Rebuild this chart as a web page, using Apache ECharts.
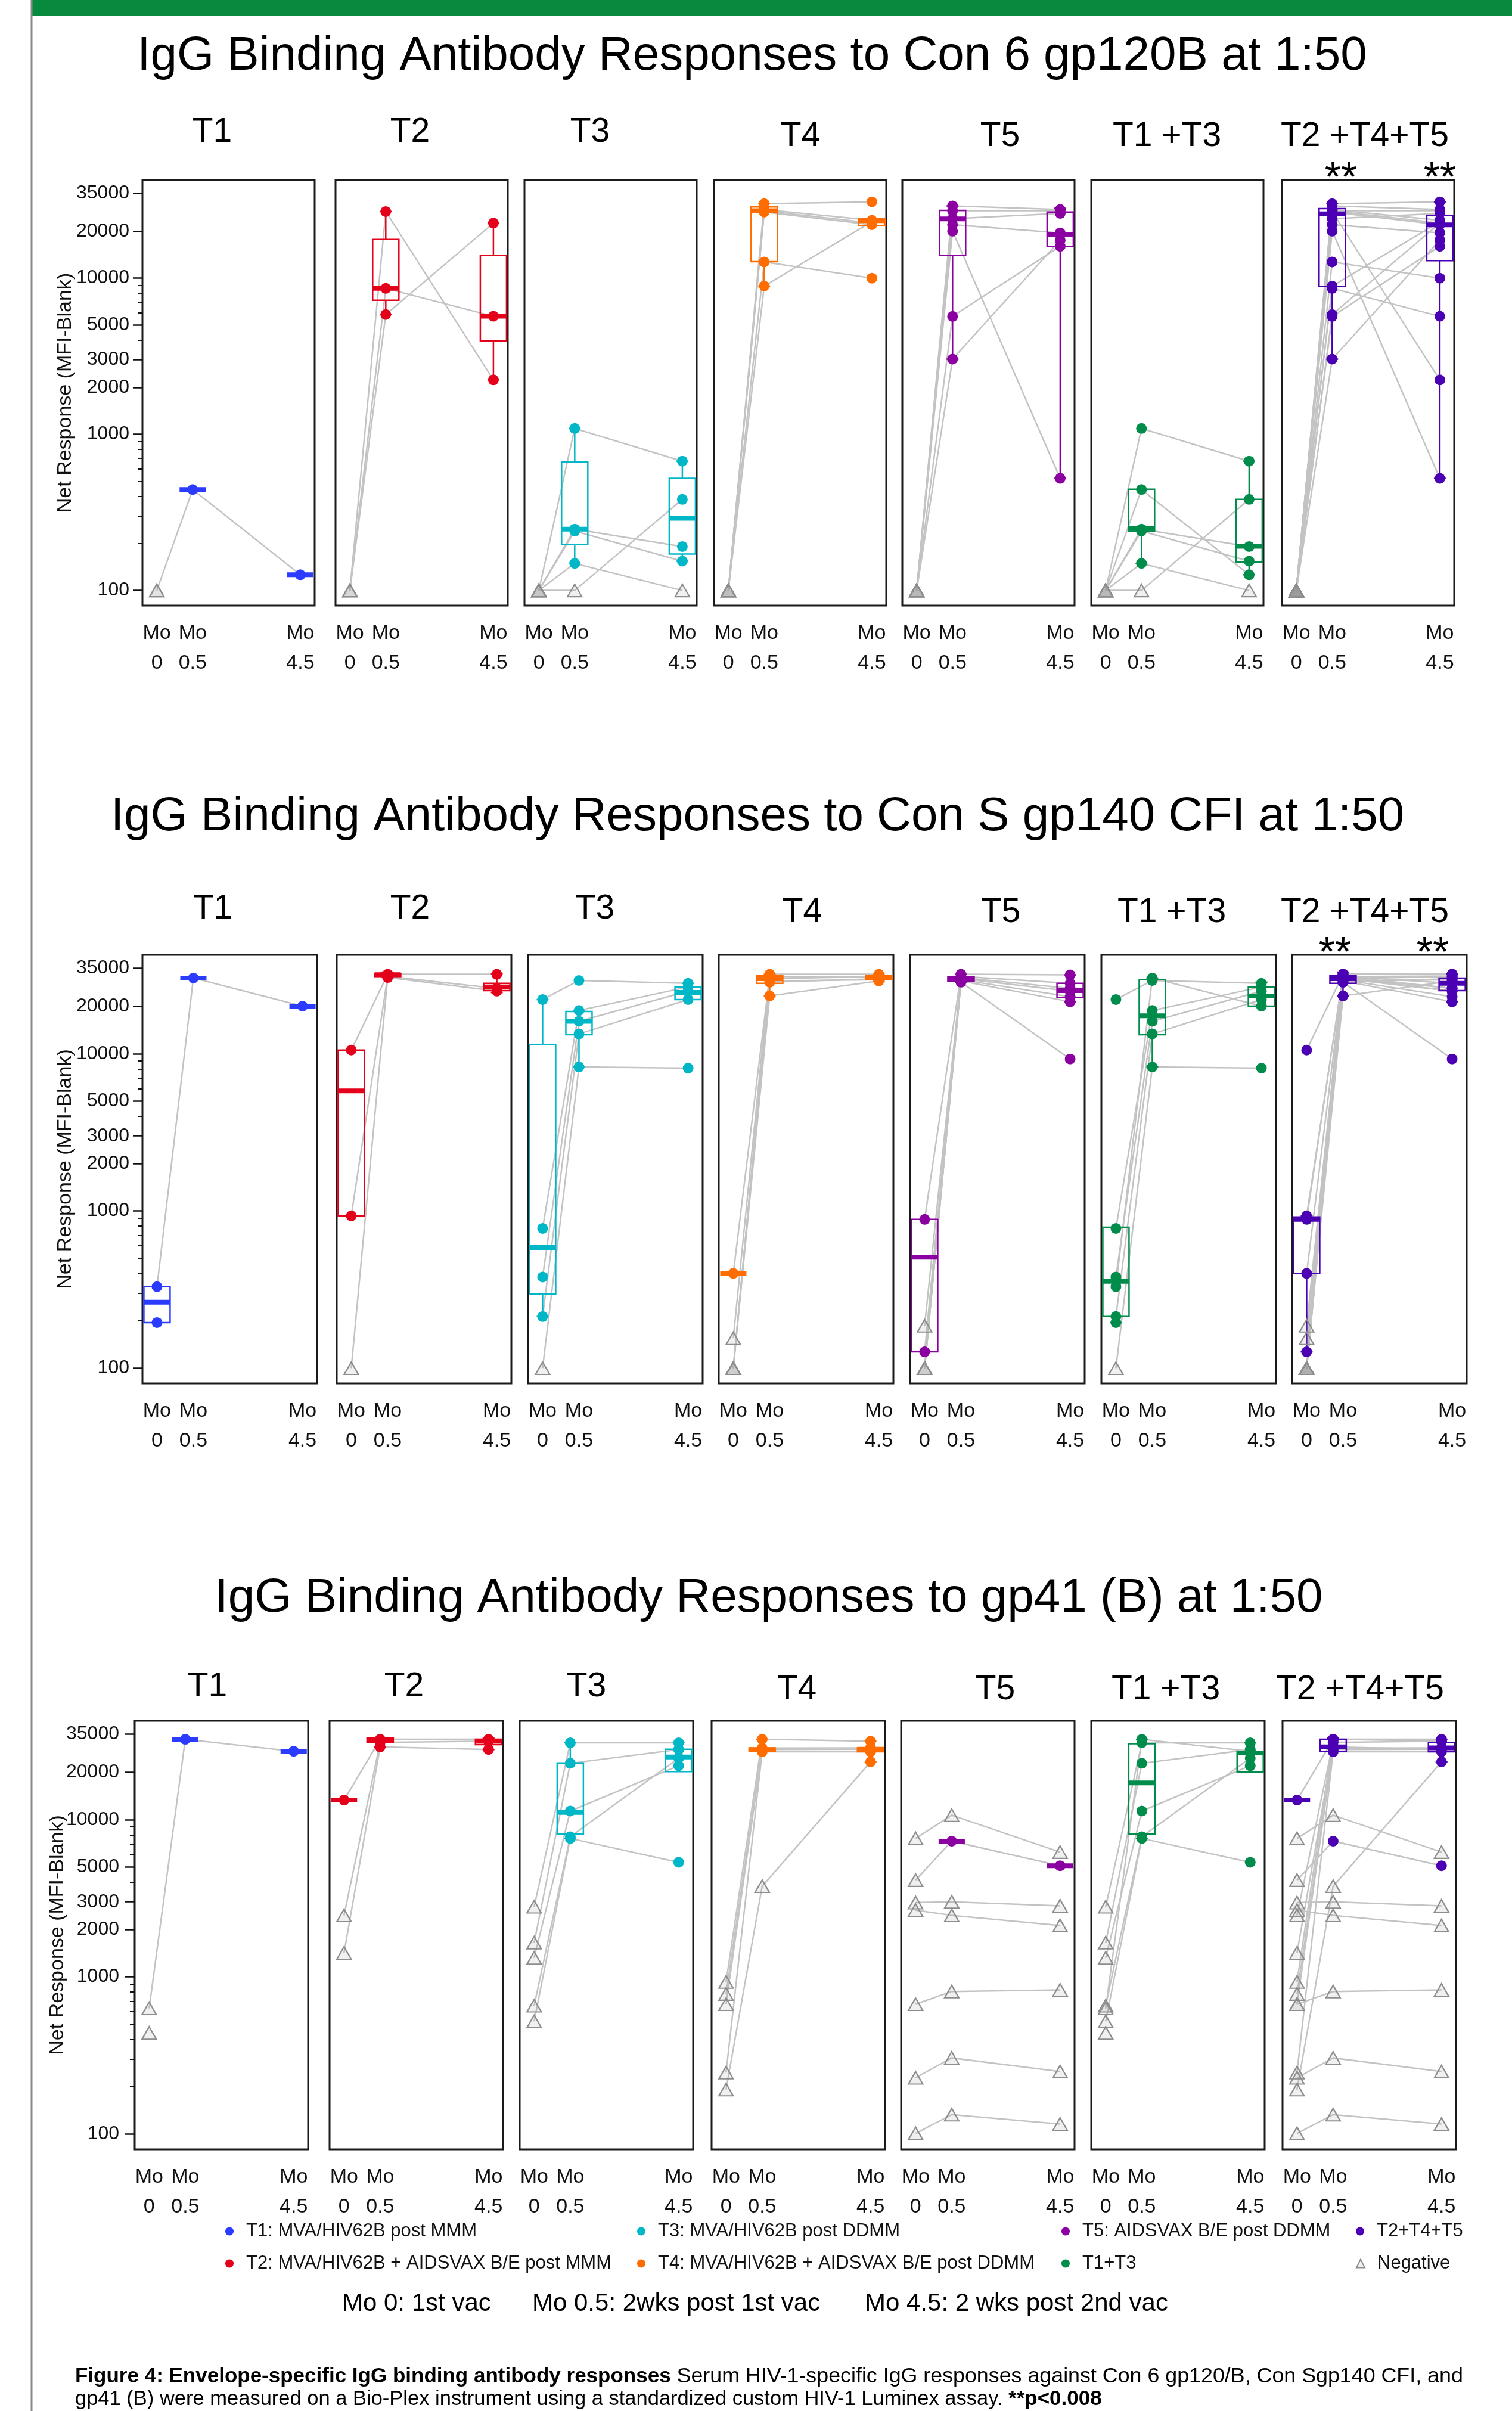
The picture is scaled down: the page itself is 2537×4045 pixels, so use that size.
<!DOCTYPE html>
<html>
<head>
<meta charset="utf-8">
<title>IgG Binding Antibody Responses</title>
<script src="https://cdn.jsdelivr.net/npm/echarts@6/dist/echarts.min.js"></script>
<style>
  html, body { margin: 0; padding: 0; background: #fff; }
  #main { width: 2537px; height: 4045px; }
</style>
</head>
<body>
<div id="main"></div>
<script>
var FONT = '"Liberation Sans", Arial, Helvetica, sans-serif';

// x positions of the three visits and their labels
var timePos = [1, 2, 5];
var timeLabels = ['Mo\n0', 'Mo\n0.5', 'Mo\n4.5'];

// y axis (log) ticks
var yTicks = [100, 1000, 2000, 3000, 5000, 10000, 20000, 35000];
var yMinorTicks = [200, 300, 400, 500, 600, 700, 800, 900, 4000, 6000, 7000, 8000, 9000];

var panelNames = ['T1', 'T2', 'T3', 'T4', 'T5', 'T1 +T3', 'T2 +T4+T5'];
var legendNames = ['T1: MVA/HIV62B post MMM', 'T2: MVA/HIV62B + AIDSVAX B/E post MMM',
  'T3: MVA/HIV62B post DDMM', 'T4: MVA/HIV62B + AIDSVAX B/E post DDMM',
  'T5: AIDSVAX B/E post DDMM', 'T1+T3', 'T2+T4+T5', 'Negative'];
var groupColors = ['#2B3BFF', '#E4001A', '#00B7C7', '#FF6C00', '#8B00A0', '#008C4B', '#4B00B4'];

var rowTitles = ['IgG Binding Antibody Responses to Con 6 gp120B at 1:50',
  'IgG Binding Antibody Responses to Con S gp140 CFI at 1:50',
  'IgG Binding Antibody Responses to gp41 (B) at 1:50'];

// one row per animal: [Mo 0, Mo 0.5, Mo 4.5, flags]  p = positive, n = negative, - = none
var gp120Subjects = [
  [[100, 443, 126, 'npp'], [100, null, null, 'n--']],
  [[100, 26700, 2230, 'npp'], [100, 8600, 5700, 'npp'], [100, 5850, 22500, 'npp']],
  [[100, 1090, 673, 'npp'], [100, 247, 191, 'npp'], [100, 240, 154, 'npp'], [100, 149, 100, 'npn'], [100, 100, 383, 'nnp']],
  [[100, 30000, 30800, 'npp'], [100, 27500, 23500, 'npp'], [100, 27000, 22500, 'npp'], [100, 26500, 22000, 'npp'], [100, 12700, 10000, 'npp'], [100, 8900, 23000, 'npp']],
  [[100, 29000, 27500, 'npp'], [100, 27000, 27000, 'npp'], [100, 24000, 26000, 'npp'], [100, 22000, 19500, 'npp'], [100, 5690, 16000, 'npp'], [100, 3030, 17500, 'npp'], [100, 20000, 522, 'npp']]
];
var gp140Subjects = [
  [[330, 30270, 20050, 'ppp'], [195, null, null, 'p--']],
  [[10540, 32000, 32000, 'ppp'], [931, 31000, 26000, 'ppp'], [100, 30500, 25000, 'npp']],
  [[22090, 29200, 27990, 'ppp'], [774, 18830, 26560, 'ppp'], [380, 16070, 25000, 'ppp'], [213, 13360, 22090, 'ppp'], [100, 8230, 8090, 'npp']],
  [[401, 31000, 30500, 'ppp'], [155, 32000, 32000, 'npp'], [100, 30000, 31000, 'npp'], [100, 29000, 29500, 'npp'], [100, 28500, 30000, 'npp'], [100, 23300, 29000, 'npp']],
  [[883, 32000, 31700, 'ppp'], [127, 31000, 28000, 'ppp'], [186, 30500, 26000, 'npp'], [100, 30000, 25000, 'npp'], [100, 29500, 23000, 'npp'], [100, 29000, 21400, 'npp'], [100, 28500, 9250, 'npp']]
];
var gp41Subjects = [
  [[630, 32400, 27200, 'npp'], [440, null, null, 'n--']],
  [[13300, 32400, 32400, 'ppp'], [2460, 31000, 31500, 'npp'], [1420, 29000, 27900, 'npp']],
  [[2790, 30800, 30800, 'npp'], [1650, 22800, 27900, 'npp'], [1320, 11330, 22000, 'npp'], [655, 7780, 24600, 'npp'], [521, 7590, 5350, 'npp']],
  [[927, 32400, 31500, 'npp'], [778, 28500, 28600, 'npp'], [670, 27900, 28000, 'npp'], [246, 27000, 27000, 'npp'], [192, 3770, 23300, 'nnp']],
  [[7590, 10670, 6210, 'nnn'], [4120, 7290, 5090, 'npp'], [2965, 3000, 2830, 'nnn'], [2655, 2460, 2120, 'nnn'], [670, 807, 826, 'nnn'], [228, 305, 250, 'nnn'], [101, 133, 116, 'nnn']]
];

// box plots per panel: [visit, min, q1, median, q3, max]
var gp120Boxes = [
  [[2, 443, 443, 443, 443, 443], [5, 126, 126, 126, 126, 126]],
  [[2, 5850, 7210, 8600, 17700, 26700], [5, 2230, 3950, 5700, 13960, 22500]],
  [[2, 149, 197, 247, 667, 1090], [5, 154, 171, 290, 522, 673]],
  [[2, 8900, 12740, 27000, 28560, 30000], [5, 21700, 21700, 23350, 24000, 24000]],
  [[2, 3030, 13960, 23930, 27150, 29000], [5, 522, 16000, 19050, 26500, 28000]],
  [[2, 149, 239, 249, 445, 445], [5, 126, 152, 192, 383, 673]],
  [[2, 3030, 8850, 25800, 27870, 30000], [5, 522, 12950, 21960, 25200, 30800]]
];
var gp140Boxes = [
  [[1, 195, 195, 263, 330, 330], [2, 30270, 30270, 30270, 30270, 30270], [5, 20050, 20050, 20050, 20050, 20050]],
  [[1, 931, 931, 5800, 10540, 10540], [2, 30500, 31000, 31800, 32300, 33000], [5, 24500, 25180, 26560, 28000, 32300]],
  [[1, 213, 296, 585, 11400, 22090], [2, 8230, 13200, 16070, 18550, 18830], [5, 22090, 22090, 24500, 26560, 27990]],
  [[1, 401, 401, 401, 401, 401], [2, 23300, 28000, 30000, 31400, 32000], [5, 29000, 29500, 30500, 31400, 32000]],
  [[1, 127, 127, 508, 883, 883], [2, 28500, 29000, 30000, 31000, 32000], [5, 21400, 22700, 25180, 28000, 31700]],
  [[1, 195, 213, 357, 787, 787], [2, 8230, 13200, 17400, 29500, 30270], [5, 20050, 20050, 23270, 26560, 28500]],
  [[1, 127, 401, 883, 916, 931], [2, 23300, 28000, 30000, 31400, 33000], [5, 21400, 25180, 28000, 30270, 32300]]
];
var gp41Boxes = [
  [[2, 32400, 32400, 32400, 32400, 32400], [5, 27200, 27200, 27200, 27200, 27200]],
  [[1, 13300, 13300, 13300, 13300, 13300], [2, 29000, 31000, 32000, 33000, 33000], [5, 27900, 30000, 31500, 32400, 33000]],
  [[2, 7590, 8070, 11100, 22900, 30800], [5, 20100, 20200, 25000, 28000, 30800]],
  [[2, 27000, 27200, 27900, 28500, 32400], [5, 23300, 27000, 28000, 28600, 31500]],
  [[2, 7290, 7290, 7290, 7290, 7290], [5, 5090, 5090, 5090, 5090, 5090]],
  [[2, 7590, 8070, 17100, 30400, 32400], [5, 20100, 20100, 26500, 27200, 30800]],
  [[1, 13300, 13300, 13300, 13300, 13300], [2, 27000, 27200, 29000, 32400, 33000], [5, 23300, 27000, 28600, 31000, 32400]]
];

var allSubjects = [gp120Subjects, gp140Subjects, gp41Subjects];
var allBoxes = [gp120Boxes, gp140Boxes, gp41Boxes];

// page layout (pixels)
var rowLayout = [
  { top: 302, height: 714, width: 289, labelMargin: 22, lefts: [239, 563, 880, 1198, 1514, 1831, 2151] },
  { top: 1602, height: 719, width: 293, labelMargin: 22, lefts: [239, 565, 886, 1206, 1527, 1848, 2168] },
  { top: 2887, height: 719, width: 291, labelMargin: 26, lefts: [226, 553, 872, 1194, 1512, 1831, 2152] }
];
var titlePos = [[1262, 95], [1271, 1371], [1290, 2682]];
var headerX = [[356, 688, 990, 1343, 1678, 1958, 2290], [357, 688, 998, 1346, 1679, 1966, 2290], [348, 678, 984, 1337, 1670, 1956, 2282]];
var headerY = [[222, 229], [1525, 1531], [2830, 2835]];
var starPos = [[2250, 302], [2416, 302], [2240, 1602], [2404, 1602]];

var Y_MIN = 80, Y_MAX = 42500;

function panelSubjects(subjects, p) {
  if (p < 5) return subjects[p];
  if (p === 5) return subjects[0].concat(subjects[2]);
  return subjects[1].concat(subjects[3], subjects[4]);
}

function renderBox(params, api) {
  var x = api.value(0);
  var lo = api.coord([x, api.value(1)]);
  var q1 = api.coord([x, api.value(2)]);
  var md = api.coord([x, api.value(3)]);
  var q3 = api.coord([x, api.value(4)]);
  var hi = api.coord([x, api.value(5)]);
  var cx = md[0], half = 22, cap = 10;
  var color = api.visual('color');
  var seg = function (x1, y1, x2, y2, w) {
    return { type: 'line', shape: { x1: x1, y1: y1, x2: x2, y2: y2 }, style: { stroke: color, lineWidth: w } };
  };
  var kids = [];
  if (q1[1] - q3[1] > 1) {
    kids.push({ type: 'rect', shape: { x: cx - half, y: q3[1], width: half * 2, height: q1[1] - q3[1] },
      style: { fill: 'none', stroke: color, lineWidth: 2.5 } });
  }
  if (q3[1] - hi[1] > 1) {
    kids.push(seg(cx, q3[1], cx, hi[1], 2.5));
    kids.push(seg(cx - cap, hi[1], cx + cap, hi[1], 2.5));
  }
  if (lo[1] - q1[1] > 1) {
    kids.push(seg(cx, q1[1], cx, lo[1], 2.5));
    kids.push(seg(cx - cap, lo[1], cx + cap, lo[1], 2.5));
  }
  kids.push(seg(cx - half, md[1], cx + half, md[1], 8));
  return { type: 'group', children: kids };
}

var grids = [], xAxes = [], yAxes = [], minorAxes = [], series = [], graphics = [];

for (var r = 0; r < 3; r++) {
  var L = rowLayout[r];
  for (var p = 0; p < 7; p++) {
    var g = r * 7 + p;
    grids.push({ left: L.lefts[p], top: L.top, width: L.width, height: L.height, show: true,
      borderColor: '#1a1a1a', borderWidth: 3, backgroundColor: 'transparent', outerBoundsMode: 'none' });
    xAxes.push({
      type: 'value', gridIndex: g, min: 0.6, max: 5.4,
      axisLine: { show: false }, axisTick: { show: false }, splitLine: { show: false },
      axisLabel: {
        customValues: timePos, margin: 22, fontSize: 34, lineHeight: 50, color: '#111', fontFamily: FONT,
        formatter: function (v) { return timeLabels[timePos.indexOf(v)]; }
      }
    });
    if (p === 0) {
      yAxes.push({
        type: 'log', gridIndex: g, min: Y_MIN, max: Y_MAX, position: 'left',
        name: 'Net Response (MFI-Blank)', nameLocation: 'middle', nameGap: 112, nameMoveOverlap: false,
        nameTextStyle: { fontSize: 34, color: '#111', fontFamily: FONT },
        axisLine: { show: false }, splitLine: { show: false },
        axisTick: { show: true, length: 16, customValues: yTicks, lineStyle: { color: '#111', width: 2.5 } },
        axisLabel: { customValues: yTicks, margin: L.labelMargin, fontSize: 32, color: '#111', fontFamily: FONT,
          formatter: function (v) { return String(Math.round(v)); } }
      });
      // minor ticks on the first panel of the row (added after the 21 main axes)
      minorAxes.push({
        type: 'log', gridIndex: g, min: Y_MIN, max: Y_MAX, position: 'left',
        axisLine: { show: false }, axisLabel: { show: false }, splitLine: { show: false },
        axisTick: { show: true, length: 8, customValues: yMinorTicks, lineStyle: { color: '#111', width: 2 } }
      });
    } else {
      yAxes.push({ type: 'log', gridIndex: g, min: Y_MIN, max: Y_MAX, show: false, splitLine: { show: false } });
    }

    var subs = panelSubjects(allSubjects[r], p);
    var lineData = [], pos = [], neg = [];
    subs.forEach(function (s) {
      var pts = [];
      for (var i = 0; i < 3; i++) {
        if (s[i] == null) continue;
        pts.push([timePos[i], s[i]]);
        if (s[3][i] === 'p') pos.push([timePos[i], s[i]]);
        else neg.push([timePos[i], s[i]]);
      }
      if (pts.length > 1) lineData.push({ coords: pts });
    });

    series.push({
      type: 'lines', coordinateSystem: 'cartesian2d', xAxisIndex: g, yAxisIndex: g,
      polyline: true, silent: true, z: 1,
      lineStyle: { color: '#c3c3c3', width: 2.5, opacity: 1 },
      data: lineData
    });
    series.push({
      type: 'custom', xAxisIndex: g, yAxisIndex: g, silent: true, z: 2,
      renderItem: renderBox, encode: { x: 0, y: [1, 2, 3, 4, 5] },
      itemStyle: { color: groupColors[p] },
      data: allBoxes[r][p]
    });
    series.push({
      type: 'scatter', name: 'Negative', xAxisIndex: g, yAxisIndex: g, z: 3,
      symbol: 'triangle', symbolSize: [24, 21],
      itemStyle: { color: 'rgba(150,150,150,0.14)', borderColor: '#8d8d8d', borderWidth: 2.2, opacity: 1 },
      data: neg
    });
    series.push({
      type: 'scatter', name: legendNames[p], xAxisIndex: g, yAxisIndex: g, z: 4,
      symbol: 'circle', symbolSize: 18,
      itemStyle: { color: groupColors[p], opacity: 1 },
      data: pos
    });

    graphics.push({ type: 'text', x: headerX[r][p], y: headerY[r][p < 3 ? 0 : 1],
      style: { text: panelNames[p], fontSize: 57, fontFamily: FONT, fill: '#000', align: 'center', verticalAlign: 'middle' } });
  }
  graphics.push({ type: 'text', x: titlePos[r][0], y: titlePos[r][1],
    style: { text: rowTitles[r], fontSize: 80, fontFamily: FONT, fill: '#000', align: 'center', verticalAlign: 'middle' } });
}
yAxes = yAxes.concat(minorAxes);

starPos.forEach(function (s) {
  graphics.push({ type: 'text', x: s[0], y: s[1],
    style: { text: '**', fontSize: 70, fontFamily: FONT, fill: '#000', align: 'center', verticalAlign: 'middle' } });
});

// page decoration
graphics.push({ type: 'rect', shape: { x: 53, y: 0, width: 2484, height: 27 }, style: { fill: '#088A3E' } });
graphics.push({ type: 'line', shape: { x1: 53, y1: 0, x2: 53, y2: 4045 }, style: { stroke: '#8a8a8a', lineWidth: 3 } });

// visit key
[['Mo 0: 1st vac', 574], ['Mo 0.5: 2wks post 1st vac', 893], ['Mo 4.5: 2 wks post 2nd vac', 1451]].forEach(function (t) {
  graphics.push({ type: 'text', x: t[1], y: 3865,
    style: { text: t[0], fontSize: 42, fontFamily: FONT, fill: '#000', align: 'left', verticalAlign: 'middle' } });
});

// caption
graphics.push({ type: 'text', x: 126, y: 3987, style: {
  text: '{b|Figure 4: Envelope-specific IgG binding antibody responses}{n| Serum HIV-1-specific IgG responses against Con 6 gp120/B, Con Sgp140 CFI, and}',
  align: 'left', verticalAlign: 'middle',
  rich: { b: { fontSize: 35, fontWeight: 'bold', fontFamily: FONT, fill: '#000' }, n: { fontSize: 35.8, fontFamily: FONT, fill: '#000' } } } });
graphics.push({ type: 'text', x: 126, y: 4025, style: {
  text: '{n|gp41 (B) were measured on a Bio-Plex instrument using a standardized custom HIV-1 Luminex assay. }{b|**p<0.008}',
  align: 'left', verticalAlign: 'middle',
  rich: { b: { fontSize: 35, fontWeight: 'bold', fontFamily: FONT, fill: '#000' }, n: { fontSize: 34.5, fontFamily: FONT, fill: '#000' } } } });

// legend: one small legend per entry so the two-row layout matches
var legendSlots = [[0, 385, 3728], [2, 1076, 3728], [4, 1788, 3728], [6, 2282, 3728],
  [1, 385, 3782], [3, 1076, 3782], [5, 1788, 3782], [7, 2282, 3782]];
var legends = legendSlots.map(function (s) {
  return {
    data: [{ name: legendNames[s[0]], icon: s[0] < 7 ? 'circle' : 'triangle' }],
    left: s[1] - 7, top: s[2], padding: 0, itemWidth: 14, itemHeight: 14,
    selectedMode: false,
    textStyle: { fontSize: 31, color: '#111', fontFamily: FONT, padding: [0, 0, 0, 16] }
  };
});

var chart = echarts.init(document.getElementById('main'), null, { renderer: 'canvas' });
chart.setOption({
  animation: false,
  backgroundColor: '#fff',
  textStyle: { fontFamily: FONT },
  grid: grids,
  xAxis: xAxes,
  yAxis: yAxes,
  legend: legends,
  series: series,
  graphic: graphics
});
</script>
</body>
</html>
